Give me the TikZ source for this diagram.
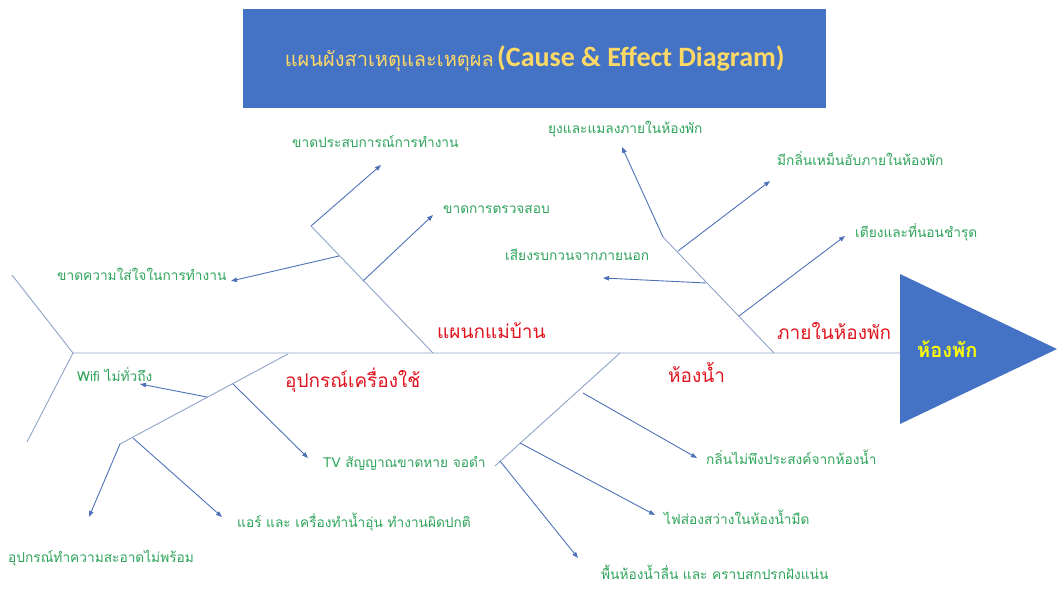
\documentclass[tikz,border=0pt]{standalone}
\usepackage{fontspec}
\newfontfamily\thaifont[Script=Thai]{Loma}
\newfontfamily\titlefont{Carlito}
\usetikzlibrary{arrows.meta,positioning}
\definecolor{boxblue}{HTML}{4472C4}
\definecolor{titleyellow}{HTML}{FFD966}
\definecolor{effectyellow}{HTML}{FFFF00}
\definecolor{bonegray}{HTML}{8FA3C6}
\definecolor{arrowblue}{HTML}{4E72B8}
\definecolor{causegreen}{HTML}{2EA35A}
\definecolor{groupred}{HTML}{E0141E}

\begin{document}
\begin{tikzpicture}[x=1pt,y=-1pt,
    every node/.style={inner sep=0pt},
    bone/.style={draw=bonegray,line width=0.9pt},
    cause/.style={draw=arrowblue,line width=0.9pt,-{Triangle[length=6pt,width=4.5pt]}},
    causetext/.style={text=causegreen,anchor=base west,font=\thaifont\fontsize{13.7}{16}\selectfont},
    grouptext/.style={text=groupred,anchor=base west,font=\thaifont\fontsize{19}{23}\selectfont}]
  \useasboundingbox (0,0) rectangle (1057,589);

  % title
  \node [fill=boxblue,minimum width=583pt,minimum height=99pt,anchor=north west,
    text=titleyellow] (title) at (243,9)
    {{\thaifont\fontsize{20}{24}\selectfont แผนผังสาเหตุและเหตุผล} {\titlefont\bfseries\fontsize{28}{30}\selectfont (Cause \& Effect Diagram)}};

  % spine and head
  \coordinate (tail) at (73,353); \coordinate (head) at (900,353);
  \coordinate (tail up) at (12,275); \coordinate (tail down) at (27,442);
  \coordinate (head top) at (900,274); \coordinate (head tip) at (1057,349);
  \coordinate (head bottom) at (900,424);
  \fill [boxblue] (head top) -- (head tip) -- (head bottom) -- cycle;
  \node [text=effectyellow,anchor=base west,font=\thaifont\bfseries\fontsize{20}{24}\selectfont]
    (effect) at (917,357) {ห้องพัก};
  \path [bone] (tail up) -- (tail) -- (tail down) (tail) -- (head);

  % bone 1: housekeeping
  \coordinate (b1) at (433,353); \coordinate (b1 end) at (311,226);
  \coordinate (b1a) at (339,256); \coordinate (b1b) at (363,281);
  \path [bone] (b1) -- (b1 end);
  \node [grouptext] (housekeeping) at (437,338) {แผนกแม่บ้าน};
  \node [causetext] (c11) at (292,147) {ขาดประสบการณ์การทำงาน};
  \node [causetext] (c12) at (443,213) {ขาดการตรวจสอบ};
  \node [causetext] (c13) at (57,280) {ขาดความใส่ใจในการทำงาน};
  \coordinate (t11) at (381,165); \coordinate (t12) at (433,215);
  \coordinate (t13) at (231,281);
  \path (b1 end) edge [cause] (t11) (b1b) edge [cause] (t12)
    (b1a) edge [cause] (t13);

  % bone 2: in the room
  \coordinate (b2) at (774,353); \coordinate (b2 end) at (663,237);
  \coordinate (b2a) at (678,251); \coordinate (b2b) at (706,283);
  \coordinate (b2c) at (739,316);
  \path [bone] (b2) -- (b2 end);
  \node [grouptext] (room) at (777,339) {ภายในห้องพัก};
  \node [causetext] (c21) at (548,133) {ยุงและแมลงภายในห้องพัก};
  \node [causetext] (c22) at (777,165) {มีกลิ่นเหม็นอับภายในห้องพัก};
  \node [causetext] (c23) at (855,237) {เตียงและที่นอนชำรุด};
  \node [causetext] (c24) at (505,260) {เสียงรบกวนจากภายนอก};
  \coordinate (t21) at (622,147); \coordinate (t22) at (770,181);
  \coordinate (t23) at (845,236); \coordinate (t24) at (603,278);
  \path (b2 end) edge [cause] (t21) (b2a) edge [cause] (t22)
    (b2c) edge [cause] (t23) (b2b) edge [cause] (t24);

  % bone 3: appliances
  \coordinate (b3) at (288,354); \coordinate (b3 end) at (120,444);
  \coordinate (b3a) at (207,397); \coordinate (b3b) at (233,384);
  \coordinate (b3c) at (133,438);
  \path [bone] (b3) -- (b3 end);
  \node [grouptext] (appliance) at (285,387) {อุปกรณ์เครื่องใช้};
  \node [causetext] (c31) at (77,381) {Wifi ไม่ทั่วถึง};
  \node [causetext] (c32) at (323,467) {TV สัญญาณขาดหาย จอดำ};
  \node [causetext] (c33) at (237,527) {แอร์ และ เครื่องทำน้ำอุ่น ทำงานผิดปกติ};
  \node [causetext] (c34) at (8,562) {อุปกรณ์ทำความสะอาดไม่พร้อม};
  \coordinate (t31) at (140,384); \coordinate (t32) at (308,458);
  \coordinate (t33) at (222,517); \coordinate (t34) at (89,517);
  \path (b3a) edge [cause] (t31) (b3b) edge [cause] (t32)
    (b3c) edge [cause] (t33) (b3 end) edge [cause] (t34);

  % bone 4: bathroom
  \coordinate (b4) at (620,353); \coordinate (b4 end) at (495,466);
  \coordinate (b4a) at (583,393); \coordinate (b4b) at (520,443);
  \coordinate (b4c) at (500,461);
  \path [bone] (b4) -- (b4 end);
  \node [grouptext] (bathroom) at (668,382) {ห้องน้ำ};
  \node [causetext] (c41) at (706,464) {กลิ่นไม่พึงประสงค์จากห้องน้ำ};
  \node [causetext] (c42) at (664,524) {ไฟส่องสว่างในห้องน้ำมืด};
  \node [causetext] (c43) at (601,579) {พื้นห้องน้ำลื่น และ คราบสกปรกฝังแน่น};
  \coordinate (t41) at (697,458); \coordinate (t42) at (655,515);
  \coordinate (t43) at (578,558);
  \path (b4a) edge [cause] (t41) (b4b) edge [cause] (t42)
    (b4c) edge [cause] (t43);
\end{tikzpicture}
\end{document}
